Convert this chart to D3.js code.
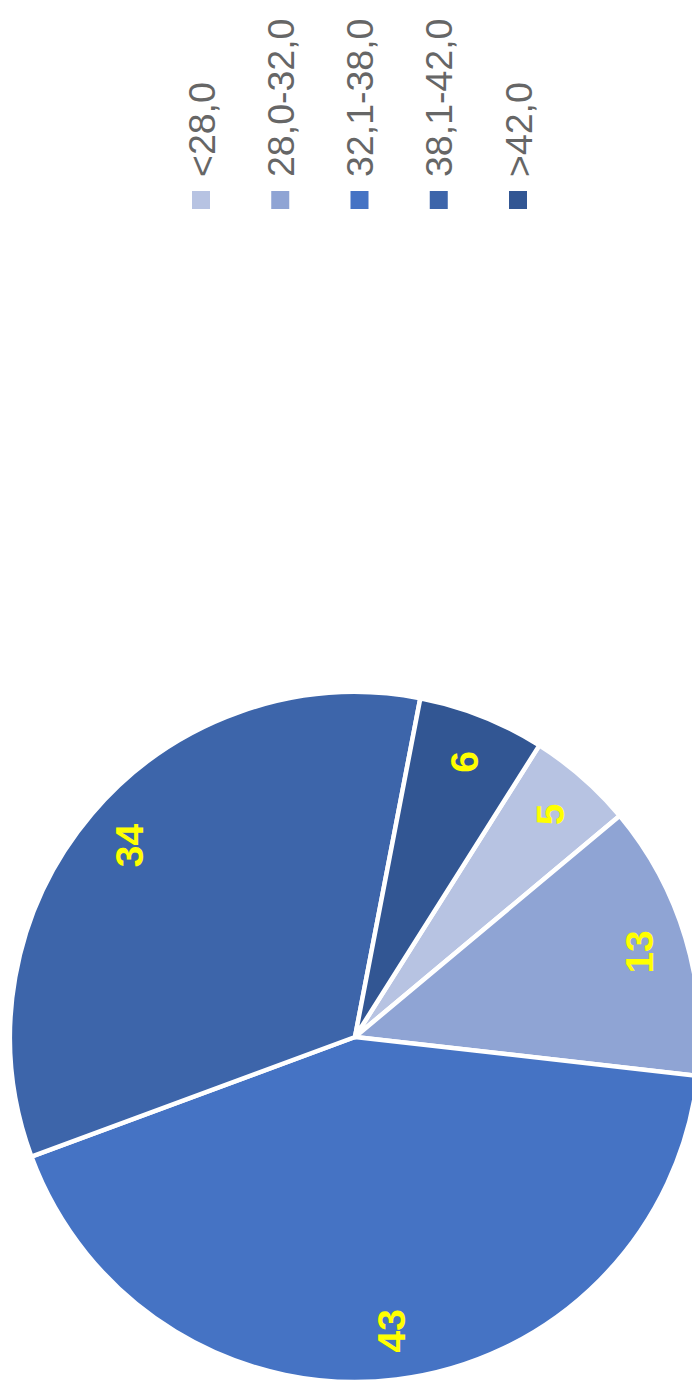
<!DOCTYPE html>
<html>
<head>
<meta charset="utf-8">
<script src="https://cdn.jsdelivr.net/npm/d3@7"></script>
<style>
  html, body { margin: 0; padding: 0; background: #fff; }
  svg { display: block; }
</style>
</head>
<body>
<svg id="chart" width="692" height="1390"></svg>
<script>
// Share of cases per range
const categories = ["<28,0", "28,0-32,0", "32,1-38,0", "38,1-42,0", ">42,0"];
const values = [5, 13, 43, 34, 6];
const colors = ["#B7C3E2", "#8FA4D4", "#4573C4", "#3D65AA", "#325693"];

const W = 692, H = 1390;
const svg = d3.select("#chart");

// The chart is laid out on its side: frame u runs bottom-to-top of the page
const frame = svg.append("g")
  .attr("transform", `translate(0,${H}) rotate(-90)`);

const cx = 353, cy = 355, R = 345;
const startDeg = 122.3;

const pie = d3.pie()
  .sort(null)
  .value(d => d.value)
  .startAngle(startDeg * Math.PI / 180)
  .endAngle((startDeg + 360) * Math.PI / 180);

const data = categories.map((c, i) => ({ cat: c, value: values[i], color: colors[i] }));
const arcs = pie(data);

const arc = d3.arc().innerRadius(0).outerRadius(R);
const labelArc = d3.arc().innerRadius(296).outerRadius(296);

const pieG = frame.append("g").attr("transform", `translate(${cx},${cy})`);

pieG.selectAll("path")
  .data(arcs)
  .join("path")
  .attr("d", arc)
  .attr("fill", d => d.data.color)
  .attr("stroke", "#fff")
  .attr("stroke-width", 4.5)
  .attr("stroke-linejoin", "round");

pieG.selectAll("text")
  .data(arcs)
  .join("text")
  .attr("transform", d => `translate(${labelArc.centroid(d)})`)
  .attr("text-anchor", "middle")
  .attr("dy", "0.36em")
  .attr("font-family", "Liberation Sans, Arial, sans-serif")
  .attr("font-weight", "bold")
  .attr("font-size", 39)
  .attr("fill", "#FFFF00")
  .text(d => d.data.value);

// Legend
const legendY = d3.scalePoint()
  .domain(categories)
  .range([201, 518]);

const legend = frame.append("g");
const item = legend.selectAll("g")
  .data(data)
  .join("g")
  .attr("transform", d => `translate(0,${legendY(d.cat)})`);

item.append("rect")
  .attr("x", 1181)
  .attr("y", -9)
  .attr("width", 18)
  .attr("height", 18)
  .attr("fill", d => d.color);

item.append("text")
  .attr("x", 1213)
  .attr("y", 0)
  .attr("dy", "0.36em")
  .attr("font-family", "Liberation Sans, Arial, sans-serif")
  .attr("font-size", 37.5)
  .attr("fill", "#666666")
  .text(d => d.cat);
</script>
</body>
</html>
